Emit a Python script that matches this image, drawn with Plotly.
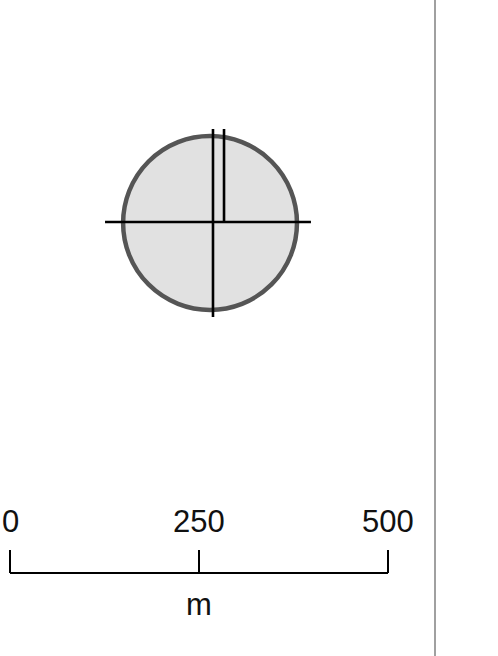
import plotly.graph_objects as go

# ---- data (map units: metres) ----
circle_center = [264.6, 463.0]      # x, y of the circular feature
circle_radius = 115.0

cross_h_x = [125.7, 398.1]          # horizontal crosshair
cross_h_y = [464.3, 464.3]
cross_v1_x = [268.5, 268.5]         # long vertical crosshair
cross_v1_y = [587.3, 338.6]
cross_v2_x = [283.1, 283.1]         # short vertical segment
cross_v2_y = [587.3, 464.3]

scale_ticks = [0, 250, 500]
scale_labels = ["0", "250", "500"]
scale_unit = "m"
tick_height = 30.4

# ---- figure ----
fig = go.Figure()

cx, cy = circle_center
fig.add_shape(type="circle", xref="x", yref="y",
              x0=cx - circle_radius, x1=cx + circle_radius,
              y0=cy - circle_radius, y1=cy + circle_radius,
              fillcolor="#e1e1e1", line=dict(color="#555555", width=4.5),
              layer="below")

line_style = dict(color="#000000", width=2.6)
for xs, ys in [(cross_h_x, cross_h_y), (cross_v1_x, cross_v1_y), (cross_v2_x, cross_v2_y)]:
    fig.add_trace(go.Scatter(x=xs, y=ys, mode="lines", line=line_style,
                             hoverinfo="skip", showlegend=False))

# scale bar
fig.add_trace(go.Scatter(x=[scale_ticks[0], scale_ticks[-1]], y=[0, 0], mode="lines",
                         line=dict(color="#000000", width=2), hoverinfo="skip", showlegend=False))
for t in scale_ticks:
    fig.add_trace(go.Scatter(x=[t, t], y=[0, tick_height], mode="lines",
                             line=dict(color="#000000", width=2), hoverinfo="skip", showlegend=False))

for t, lab in zip(scale_ticks, scale_labels):
    fig.add_annotation(x=t, y=67.5, xref="x", yref="y", text=lab, showarrow=False,
                       xanchor="center", yanchor="middle",
                       font=dict(family="Liberation Sans, Arial", size=31, color="#111111"))
fig.add_annotation(x=scale_ticks[1], y=-42, xref="x", yref="y", text=scale_unit, showarrow=False,
                   xanchor="center", yanchor="middle",
                   font=dict(family="Liberation Sans, Arial", size=31, color="#111111"))

# separator line on the right
fig.add_shape(type="line", xref="paper", yref="paper", x0=0.8735, x1=0.8735, y0=0, y1=1,
              line=dict(color="#a0a0a0", width=2))

px_per_m = 0.756
fig.update_layout(
    width=498, height=656, autosize=False,
    margin=dict(l=0, r=0, t=0, b=0),
    paper_bgcolor="white", plot_bgcolor="white",
    xaxis=dict(range=[-10 / px_per_m, 488 / px_per_m], visible=False, fixedrange=True),
    yaxis=dict(range=[(573 - 656) / px_per_m, 573 / px_per_m], visible=False, fixedrange=True),
    showlegend=False,
)

fig.write_html("out.html", config={"displayModeBar": False, "staticPlot": True},
               post_script="document.body.style.margin='0';document.body.style.overflow='hidden';")
